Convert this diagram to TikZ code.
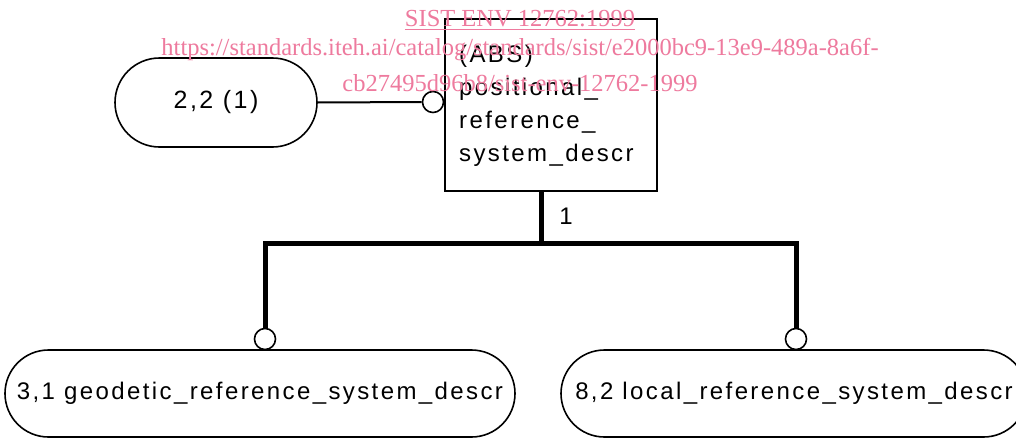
\documentclass[tikz,border=0pt]{standalone}
\usepackage{fontspec}
\setmainfont{Liberation Serif}
\newfontfamily\diag[LetterSpace=10]{Liberation Sans}
\usetikzlibrary{shapes.misc}
\definecolor{wm}{RGB}{238,122,158}
\tikzset{
  stadium/.style={draw, line width=1.6pt, rounded rectangle, inner sep=0pt, font=\diag\fontsize{25}{30}\selectfont},
  subfont/.style={font=\diag\fontsize{24}{30}\selectfont},
  entbox/.style={draw, line width=2pt, inner sep=0pt, anchor=north west},
  conn/.style={draw, circle, line width=1.6pt, fill=white, inner sep=0pt, minimum size=21pt},
  thin/.style={line width=2pt},
  bus/.style={line width=5pt},
  wmark/.style={text=wm, font=\fontsize{24.5}{28}\selectfont, anchor=base, inner sep=0pt}
}
\begin{document}
\begin{tikzpicture}[x=1pt,y=-1pt]
\useasboundingbox (0,0) rectangle (1016,439);
\clip (0,0) rectangle (1016,439);
\fill[white] (0,0) rectangle (1016,439);
% entity box
\node[entbox, minimum width=212pt, minimum height=172pt] (abs) at (444,18) {};
\node[anchor=base west, align=left, inner sep=0pt, font=\diag\fontsize{24}{33}\selectfont] (abstxt) at (459,161) {(ABS)\\positional\_\\reference\_\\system\_descr};
% left reference
\node[stadium, minimum width=202pt, minimum height=89pt] (r22) at (216,102.5) {2,2 (1)};
\node[conn] (c0) at (433,102) {};
\draw[thin] (r22.east) -- (c0.west);
% subtypes
\node[stadium, subfont, minimum width=510pt, minimum height=87pt] (geo) at (260,393.5) {3,1 geodetic\_reference\_system\_descr};
\node[stadium, subfont, minimum width=466pt, minimum height=87pt] (loc) at (794,393.5) {8,2 local\_reference\_system\_descr};
\node[conn] (cL) at (265,339) {};
\node[conn] (cR) at (796,339) {};
\coordinate (j) at (541,243);
\draw[bus] (abs.south -| j) -- (j);
\draw[bus] (cL.north) -- (cL.north |- j) -- (cR.north |- j) -- (cR.north);
\node[font=\diag\fontsize{24}{28}\selectfont, inner sep=0pt] (one) at (566,216) {1};
% watermark
\node[wmark] (w1) at (520,27) {\underline{SIST ENV 12762:1999}};
\node[wmark] (w2) at (520,55) {https://standards.iteh.ai/catalog/standards/sist/e2000bc9-13e9-489a-8a6f-};
\node[wmark] (w3) at (520,91) {cb27495d96b8/sist-env-12762-1999};
\end{tikzpicture}
\end{document}
